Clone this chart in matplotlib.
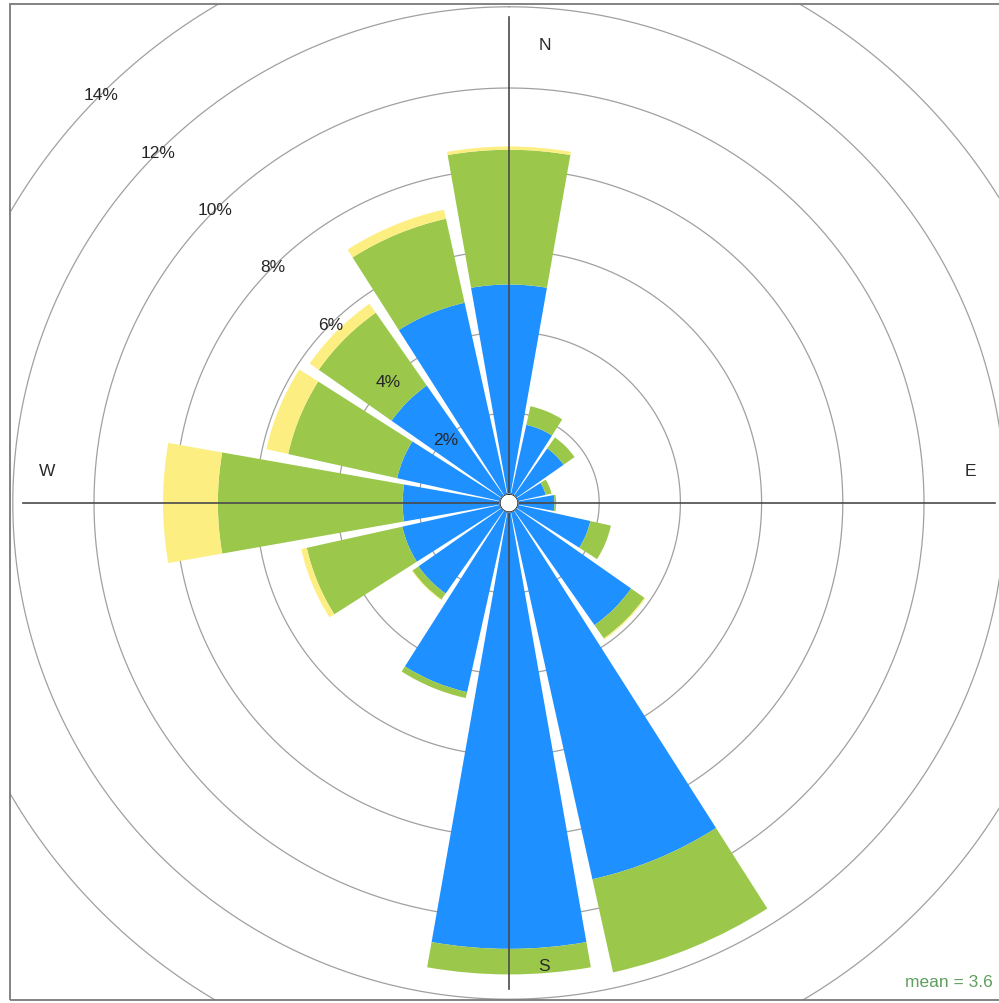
import numpy as np
import matplotlib
matplotlib.use("Agg")
import matplotlib.pyplot as plt
from matplotlib.patches import Rectangle

# ---------------- data (percent frequency per direction) ----------------
directions = ["N", "NNE", "NE", "ENE", "E", "ESE", "SE", "SSE",
              "S", "SSW", "SW", "WSW", "W", "WNW", "NW", "NNW"]
dir_angles = [0, 22.5, 45, 67.5, 90, 112.5, 135, 157.5,
              180, 202.5, 225, 247.5, 270, 292.5, 315, 337.5]
seg_blue = [5.16, 1.75, 1.42, 0.70, 0.90, 1.83, 3.45, 9.27,
            10.76, 4.55, 2.50, 2.47, 2.40, 2.60, 3.31, 4.83]
seg_green = [3.32, 0.47, 0.33, 0.15, 0.04, 0.52, 0.40, 2.35,
             0.63, 0.15, 0.18, 2.41, 4.55, 2.75, 2.19, 2.12]
seg_yellow = [0.08, 0.00, 0.00, 0.00, 0.00, 0.00, 0.03, 0.00,
              0.00, 0.00, 0.02, 0.14, 1.35, 0.55, 0.27, 0.23]
ring_values = [2, 4, 6, 8, 10, 12, 14]
ring_labels = ["2%", "4%", "6%", "8%", "10%", "12%", "14%"]
compass = ["N", "E", "S", "W"]
mean_text = "mean = 3.6"

colors = ["#1E90FF", "#9BC84B", "#FDEE82"]

# ---------------- figure / layout ----------------
W, H = 999, 1004
fig = plt.figure(figsize=(W / 100, H / 100), dpi=100)
fig.patch.set_facecolor("white")

cx_px, cy_px = 509, 504          # centre of the rose in pixels (from top-left)
px_per_pct = 40.6
hole_px = 9
off = hole_px / px_per_pct
rmax = 18.0
R = (rmax + off) * px_per_pct

ax = fig.add_axes([cx_px / W - R / W, 1 - cy_px / H - R / H, 2 * R / W, 2 * R / H],
                  projection="polar")
ax.set_theta_zero_location("N")
ax.set_theta_direction(-1)
ax.set_ylim(0, rmax)
ax.set_rorigin(-off)
ax.set_xticks([])
ax.set_yticks([])
ax.grid(False)
ax.spines["polar"].set_visible(False)
ax.patch.set_visible(False)

# panel box (clip region)
bx0, by0, bx1, by1 = 10, 5, 1012, 1001
box = Rectangle((bx0 / W, 1 - by1 / H), (bx1 - bx0) / W, (by1 - by0) / H,
                transform=fig.transFigure, fill=False, edgecolor="#7a7a7a",
                linewidth=1.3, zorder=10)
fig.patches.append(box)

# rings
th = np.linspace(0, 2 * np.pi, 721)
for v in ring_values:
    ln, = ax.plot(th, np.full_like(th, v), color="#a0a0a0", lw=0.9, zorder=0.5)
    ln.set_clip_path(box)
ax.plot(th, np.zeros_like(th), color="#c8c8c8", lw=0.7, zorder=3.5)

# stacked bars
theta = np.deg2rad(dir_angles)
width = np.deg2rad(20.0)
bottom = np.zeros(len(directions))
for seg, col in zip([seg_blue, seg_green, seg_yellow], colors):
    vals = np.array(seg)
    bars = ax.bar(theta, vals, width=width, bottom=bottom, color=col,
                  edgecolor="none", linewidth=0, zorder=2, align="center")
    for b in bars:
        b.set_clip_path(box)
    bottom = bottom + vals

# compass cross lines
axis_len = 11.75
for a in [0, 90, 180, 270]:
    ax.plot([np.deg2rad(a), np.deg2rad(a)], [0, axis_len], color="#4a4a4a",
            lw=1.2, zorder=3)

# ring labels along the NW diagonal
for v, lab in zip(ring_values, ring_labels):
    ax.text(np.deg2rad(315), v, lab, ha="center", va="center",
            fontsize=12.5, color="#262626", family="Liberation Sans", zorder=5)

# compass letters
comp_pos = {"N": (545, 45), "E": (970, 472), "S": (544, 967), "W": (47, 472)}
for c in compass:
    x, y = comp_pos[c]
    fig.text(x / W, 1 - y / H, c, ha="center", va="center", fontsize=12.5,
             color="#2a2a2a", family="Liberation Sans", zorder=6)

fig.text(993 / W, 1 - 983 / H, mean_text, ha="right", va="center",
         fontsize=12.5, color="#5e9e5e", family="Liberation Sans")

fig.savefig("out.png", dpi=100, facecolor="white")
